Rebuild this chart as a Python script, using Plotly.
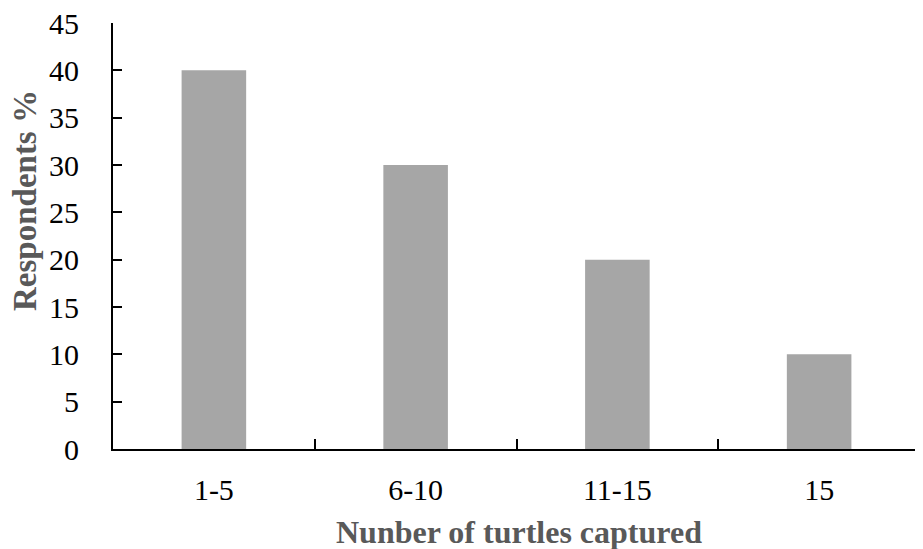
import plotly.graph_objects as go

categories = ["1-5", "6-10", "11-15", "15"]
respondents = [40, 30, 20, 10]
y_ticks = [0, 5, 10, 15, 20, 25, 30, 35, 40, 45]

fig = go.Figure(go.Bar(
    x=categories, y=respondents,
    marker=dict(color="#a6a6a6", line=dict(width=0)),
))

font = "Liberation Serif, Times New Roman, serif"
# page body has an 8px margin; figure is sized so it ends at the window edge
fig.update_layout(
    width=915, height=541,
    margin=dict(l=105, r=3, t=15, b=100),
    plot_bgcolor="white", paper_bgcolor="white",
    bargap=0.68, showlegend=False,
    font=dict(family=font, size=30, color="black"),
    annotations=[
        dict(text="<b>Respondents %</b>", xref="paper", yref="paper",
             x=-113/807 + 25/807, y=(449-201)/426, textangle=-90, showarrow=False,
             xanchor="center", yanchor="middle",
             font=dict(size=33, color="#595959", family=font)),
        dict(text="<b>Nunber of turtles captured</b>", xref="paper", yref="paper",
             x=(519-113)/807, y=-(532-449)/426, showarrow=False,
             xanchor="center", yanchor="middle",
             font=dict(size=32, color="#595959", family=font)),
    ],
)
fig.update_yaxes(
    range=[0, 45], tickvals=y_ticks, ticks="inside", ticklen=9, tickwidth=2,
    tickcolor="black", showline=True, linecolor="black", linewidth=2,
    showgrid=False, zeroline=False, ticklabelstandoff=26, automargin=False,
    ticklabeloverflow="allow",
    tickfont=dict(size=30, family=font),
)
fig.update_xaxes(
    tickson="boundaries", ticks="inside", ticklen=10, tickwidth=2, tickcolor="black",
    showline=True, linecolor="black", linewidth=2, showgrid=False, automargin=False,
    ticklabeloverflow="allow",
    tickfont=dict(size=30, family=font), ticklabelstandoff=13,
)
fig.write_html("out.html")
